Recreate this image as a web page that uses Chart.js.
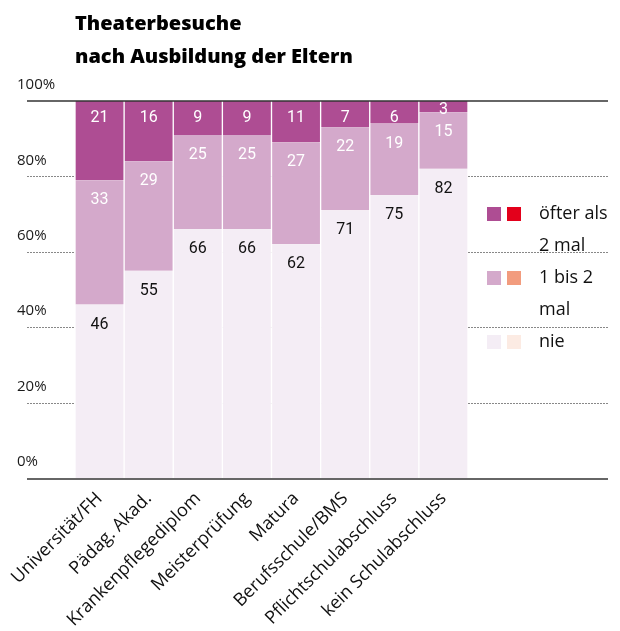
<!DOCTYPE html>
<html>
<head>
<meta charset="utf-8">
<script src="https://cdn.jsdelivr.net/npm/chart.js@4"></script>
<style>
  html, body { margin:0; padding:0; background:#fff; }
  #c { display:block; }
</style>
</head>
<body>
<canvas id="c" width="620" height="631"></canvas>
<script>
// ====================== DATA ======================
const categories = ['Universität/FH','Pädag. Akad.','Krankenpflegediplom','Meisterprüfung','Matura','Berufsschule/BMS','Pflichtschulabschluss','kein Schulabschluss'];
const nie        = [46, 55, 66, 66, 62, 71, 75, 82];
const einBisZwei = [33, 29, 25, 25, 27, 22, 19, 15];
const oefter     = [21, 16,  9,  9, 11,  7,  6,  3];
const yTicks     = [0, 20, 40, 60, 80, 100];
const titleLines = ['Theaterbesuche', 'nach Ausbildung der Eltern'];
const legendItems = [
  { lines:['öfter als','2 mal'], colors:['#AE4D93','#E3001B'] },
  { lines:['1 bis 2','mal'],     colors:['#D4A9CB','#F29C7E'] },
  { lines:['nie'],               colors:['#F4EDF5','#FCEBE3'] }
];

const FONT = '"Open Sans", Lato, sans-serif';

// ====================== PLUGIN: grid, labels, title, legend ======================
const decor = {
  id: 'decor',
  beforeDatasetsDraw(chart) {
    const { ctx } = chart;
    const y = chart.scales.y;
    ctx.save();
    // dotted gridlines
    ctx.strokeStyle = '#888';
    ctx.lineWidth = 1;
    ctx.setLineDash([2, 1]);
    yTicks.filter(v => v > 0 && v < 100).forEach(v => {
      const py = Math.round(y.getPixelForValue(v)) + 0.5;
      ctx.beginPath(); ctx.moveTo(27, py); ctx.lineTo(608, py); ctx.stroke();
    });
    ctx.setLineDash([]);
    // tick labels above lines
    ctx.fillStyle = '#1a1a1a';
    ctx.font = '15px ' + FONT;
    ctx.textAlign = 'left';
    ctx.textBaseline = 'middle';
    yTicks.forEach(v => ctx.fillText(v + '%', 17, y.getPixelForValue(v) - 16));
    // title
    ctx.font = '800 20px ' + FONT;
    ctx.fillStyle = '#000';
    ctx.textBaseline = 'alphabetic';
    titleLines.forEach((t, i) => ctx.fillText(t, 75, 30 + i * 33));
    // legend
    ctx.font = '18px ' + FONT;
    ctx.textBaseline = 'middle';
    let ly = 214;
    legendItems.forEach(item => {
      item.colors.forEach((c, j) => {
        ctx.fillStyle = c;
        ctx.fillRect(487 + j * 20, ly - 7, 14, 14);
      });
      ctx.fillStyle = '#111';
      item.lines.forEach((l, k) => ctx.fillText(l, 539, ly + k * 32));
      ly += item.lines.length * 32;
    });
    ctx.restore();
  },
  afterDatasetsDraw(chart) {
    const { ctx } = chart;
    const y = chart.scales.y;
    ctx.save();
    // value labels
    ctx.font = '16px Roboto, sans-serif';
    ctx.textAlign = 'center';
    ctx.textBaseline = 'middle';
    chart.data.datasets.forEach((ds, di) => {
      const meta = chart.getDatasetMeta(di);
      meta.data.forEach((el, i) => {
        const h = el.base - el.y;
        const off = Math.min(di === 2 ? 17 : 20, h - 2);
        ctx.fillStyle = di === 0 ? '#111' : '#fff';
        ctx.fillText(ds.data[i], el.x, el.y + off);
      });
    });
    // 100% line and 0% line
    ctx.strokeStyle = '#333';
    ctx.lineWidth = 1.5;
    let py = y.getPixelForValue(100);
    ctx.beginPath(); ctx.moveTo(27, py); ctx.lineTo(608, py); ctx.stroke();
    ctx.strokeStyle = '#666';
    ctx.lineWidth = 2;
    py = y.getPixelForValue(0) + 1;
    ctx.beginPath(); ctx.moveTo(27, py); ctx.lineTo(608, py); ctx.stroke();
    ctx.restore();
  }
};

const barBorder = { left:1, right:1, top:0, bottom:0 };

new Chart(document.getElementById('c'), {
  type: 'bar',
  data: {
    labels: categories,
    datasets: [
      { label:'nie',       data: nie,        backgroundColor:'#F4EDF5', borderColor:'#fff', borderWidth: barBorder, borderSkipped:false },
      { label:'1 bis 2 mal', data: einBisZwei, backgroundColor:'#D4A9CB', borderColor:'#fff', borderWidth: barBorder, borderSkipped:false },
      { label:'öfter als 2 mal', data: oefter, backgroundColor:'#AE4D93', borderColor:'#fff', borderWidth: barBorder, borderSkipped:false }
    ]
  },
  options: {
    responsive: false,
    animation: false,
    layout: { padding: { top: 101, right: 152, left: 0, bottom: 0 } },
    datasets: { bar: { barPercentage: 1, categoryPercentage: 1 } },
    plugins: { legend: { display:false }, tooltip: { enabled:false }, title: { display:false } },
    scales: {
      x: {
        stacked: true,
        grid: { display:false },
        border: { display:false },
        ticks: { color:'#111', font:{ family:FONT, size:18 }, maxRotation:45, minRotation:45, autoSkip:false, padding:2 },
        afterFit: s => { s.height = 153; }
      },
      y: {
        stacked: true,
        min: 0, max: 100,
        grid: { display:false },
        border: { display:false },
        ticks: { display:false },
        afterFit: s => { s.width = 75; }
      }
    }
  },
  plugins: [decor]
});
</script>
</body>
</html>
